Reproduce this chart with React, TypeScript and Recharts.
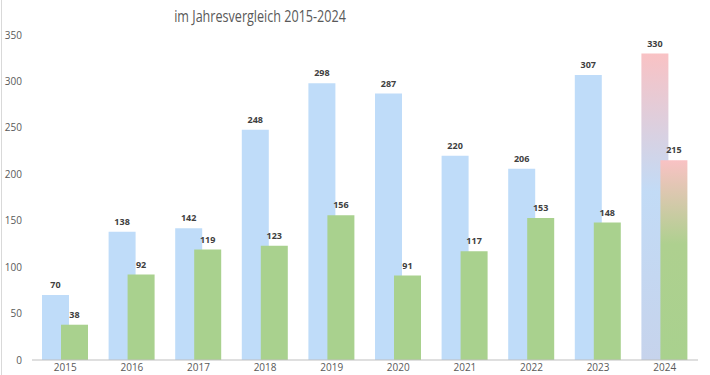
import React from 'react';
import { BarChart, Bar, XAxis, YAxis, LabelList, Cell } from 'recharts';

const years = ['2015', '2016', '2017', '2018', '2019', '2020', '2021', '2022', '2023', '2024'];
const blueValues = [70, 138, 142, 248, 298, 287, 220, 206, 307, 330];
const greenValues = [38, 92, 119, 123, 156, 91, 117, 153, 148, 215];
const yTicks = [0, 50, 100, 150, 200, 250, 300, 350];

const BLUE = '#bfdcf9';
const GREEN = '#a9d18e';

const data = years.map((year, i) => ({ year, a: blueValues[i], b: greenValues[i] }));

const font = "'Open Sans', sans-serif";

const App: React.FC = () => {
  const last = years.length - 1;
  return (
    <div style={{ position: 'absolute', left: 0, top: 0, width: 710, height: 375, background: '#fff', fontFamily: font, overflow: 'hidden' }}>
      <div style={{ position: 'absolute', left: 1, top: 0, bottom: 0, width: 1, background: '#d9d9d9' }} />
      {/* title, squeezed a bit to mimic the narrow Calibri look */}
      <div
        style={{
          position: 'absolute',
          left: 0,
          width: 520,
          top: 4,
          textAlign: 'center',
          fontSize: 17,
          color: '#595959',
          fontFamily: font,
        }}
      >
        <span style={{ display: 'inline-block', transform: 'scaleX(0.74)' }}>im Jahresvergleich 2015-2024</span>
      </div>
      <BarChart
        width={710}
        height={375}
        data={data}
        margin={{ top: 35, right: 12, left: 0, bottom: 0 }}
        barSize={27}
        barGap={-8}
      >
        <defs>
          <linearGradient id="blueFade" x1="0" y1="0" x2="0" y2="1">
            <stop offset="0%" stopColor="#f9c2c4" />
            <stop offset="45%" stopColor="#c2dbf6" />
            <stop offset="100%" stopColor="#c6d3ec" />
          </linearGradient>
          <linearGradient id="greenFade" x1="0" y1="0" x2="0" y2="1">
            <stop offset="0%" stopColor="#f9c2c4" />
            <stop offset="42%" stopColor="#aed08f" />
            <stop offset="100%" stopColor={GREEN} />
          </linearGradient>
        </defs>
        <XAxis
          dataKey="year"
          height={15}
          tickLine={false}
          tickSize={0}
          tickMargin={4}
          axisLine={{ stroke: '#bfbfbf' }}
          tick={{ fill: '#595959', fontSize: 10, fontFamily: font }}
          interval={0}
        />
        <YAxis
          width={32}
          domain={[0, 350]}
          ticks={yTicks}
          axisLine={false}
          tickLine={false}
          tickSize={0}
          tickMargin={10}
          tick={{ fill: '#595959', fontSize: 10, fontFamily: font }}
        />
        <Bar dataKey="a" fill={BLUE} isAnimationActive={false}>
          {data.map((d, i) => (
            <Cell key={d.year} fill={i === last ? 'url(#blueFade)' : BLUE} />
          ))}
          <LabelList dataKey="a" position="top" offset={7} fill="#404040" fontSize={9} fontWeight="bold" fontFamily={font} />
        </Bar>
        <Bar dataKey="b" fill={GREEN} isAnimationActive={false}>
          {data.map((d, i) => (
            <Cell key={d.year} fill={i === last ? 'url(#greenFade)' : GREEN} />
          ))}
          <LabelList dataKey="b" position="top" offset={7} fill="#404040" fontSize={9} fontWeight="bold" fontFamily={font} />
        </Bar>
      </BarChart>
    </div>
  );
};

export default App;
